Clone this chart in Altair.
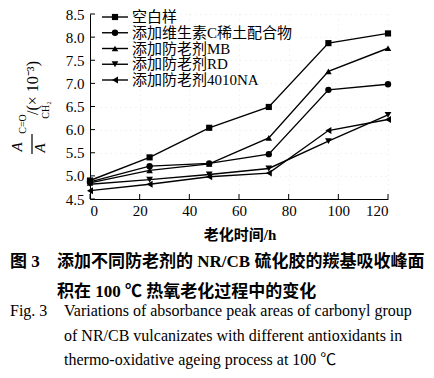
import altair as alt
import pandas as pd

# ---------------- data ----------------
hours = [0, 24, 48, 72, 96, 120]
series = ["空白样", "添加维生素C稀土配合物", "添加防老剂MB", "添加防老剂RD", "添加防老剂4010NA"]
blank = [4.90, 5.40, 6.04, 6.49, 7.87, 8.08]
vitc = [4.87, 5.21, 5.27, 5.47, 6.86, 6.98]
mb = [4.85, 5.12, 5.26, 5.82, 7.26, 7.76]
rd = [4.82, 4.92, 5.03, 5.16, 5.75, 6.32]
na4010 = [4.68, 4.82, 4.98, 5.06, 5.98, 6.22]
values = [blank, vitc, mb, rd, na4010]

x_ticks = [0, 20, 40, 60, 80, 100, 120]
y_ticks = [4.5, 5.0, 5.5, 6.0, 6.5, 7.0, 7.5, 8.0, 8.5]

x_title = "老化时间/h"
y_num, y_num_sub = "A", "C=O"
y_den, y_den_sub = "A", "CH₂"
y_unit = "/(× 10⁻³)"
cap_cn_lead = "图 3"
cap_cn = ["添加不同防老剂的 NR/CB 硫化胶的羰基吸收峰面", "积在 100 ℃ 热氧老化过程中的变化"]
cap_en_lead = "Fig. 3"
cap_en = ["Variations of absorbance peak areas of carbonyl group",
          "of NR/CB vulcanizates with different antioxidants in",
          "thermo-oxidative ageing process at 100 ℃"]

shapes = ["square", "circle", "triangle-up", "triangle-down", "triangle-left"]
sizes = [38, 48, 55, 55, 55]

rows = []
for s, vals in zip(series, values):
    for h, v in zip(hours, vals):
        rows.append({"series": s, "hour": h, "value": v})
df = pd.DataFrame(rows)
legend_df = pd.DataFrame({"series": series})

W, H = 298, 185
SERIF = "Liberation Serif, Noto Sans CJK SC"
CJK = "Liberation Serif, Noto Sans CJK SC"

xs = alt.Scale(domain=[0, 120], nice=False, zero=False)
ys = alt.Scale(domain=[4.5, 8.5], nice=False, zero=False)
shape_sc = alt.Scale(domain=series, range=shapes)
size_sc = alt.Scale(domain=series, range=sizes)

lines = alt.Chart(df).mark_line(color="black", strokeWidth=1.4).encode(
    x=alt.X("hour:Q", scale=xs,
            axis=alt.Axis(values=x_ticks, title=None, grid=True, labelPadding=4)),
    y=alt.Y("value:Q", scale=ys,
            axis=alt.Axis(values=y_ticks, title=None, grid=True, format=".1f", labelPadding=6)),
    detail="series:N",
)

points = alt.Chart(df).mark_point(filled=True, color="black", opacity=1).encode(
    x=alt.X("hour:Q", scale=xs),
    y=alt.Y("value:Q", scale=ys, axis=None),
    shape=alt.Shape("series:N", scale=shape_sc, legend=None),
    size=alt.Size("series:N", scale=size_sc, legend=None),
)

# inward ticks
xt = alt.Chart(pd.DataFrame({"t": x_ticks})).mark_rule(color="black", strokeWidth=1).encode(
    x=alt.X("t:Q", scale=xs), y=alt.value(H), y2=alt.value(H - 5))
yt = alt.Chart(pd.DataFrame({"t": y_ticks})).mark_rule(color="black", strokeWidth=1).encode(
    y=alt.Y("t:Q", scale=ys, axis=None), x=alt.value(0), x2=alt.value(5))

# legend
leg_y = alt.Y("series:N", scale=alt.Scale(type="point", domain=series, range=[3, 66], padding=0), axis=None)
leg_line = alt.Chart(legend_df).mark_rule(color="black", strokeWidth=1.4).encode(
    y=leg_y, x=alt.value(12), x2=alt.value(38))
leg_pt = alt.Chart(legend_df).mark_point(filled=True, color="black", opacity=1).encode(
    y=leg_y, x=alt.value(25),
    shape=alt.Shape("series:N", scale=shape_sc, legend=None),
    size=alt.Size("series:N", scale=size_sc, legend=None))
leg_txt = alt.Chart(legend_df).mark_text(align="left", baseline="middle", font=SERIF,
                                         fontSize=15, color="black").encode(
    y=leg_y, x=alt.value(42), text="series:N")


def txt(s, x, y, size, font=SERIF, weight="normal", align="left", angle=0, style="normal"):
    kw = dict(align=align, baseline="middle", font=font, fontSize=size,
              fontWeight=weight, color="black", fontStyle=style)
    if angle:
        kw["angle"] = angle
    return alt.Chart(pd.DataFrame({"t": [s]})).mark_text(**kw).encode(
        text="t:N", x=alt.value(x), y=alt.value(y))


annot = [
    txt(x_title, 150, 221, 15, font=CJK, weight="bold", align="center"),
    txt(y_num, -73, 133, 15, style="italic", align="center", angle=270),
    txt(y_num_sub, -67, 110, 10, align="center", angle=270),
    txt(y_den, -50, 134, 15, style="italic", align="center", angle=270),
    txt(y_den_sub, -44, 96, 10, align="center", angle=270),
    txt(y_unit, -57, 74, 16, align="center", angle=270),
    txt(cap_cn_lead, -80, 248, 17, font=CJK, weight="bold"),
    txt(cap_cn[0], -33, 248, 17, font=CJK, weight="bold"),
    txt(cap_cn[1], -33, 278, 17, font=CJK, weight="bold"),
    txt(cap_en_lead, -80, 297, 16),
    txt(cap_en[0], -26, 297, 16),
    txt(cap_en[1], -26, 322, 16),
    txt(cap_en[2], -26, 346, 16),
]
frac_bar = alt.Chart(pd.DataFrame({"t": [0]})).mark_rule(color="black", strokeWidth=1.2).encode(
    x=alt.value(-58), y=alt.value(120), y2=alt.value(140))

chart = alt.layer(lines, points, xt, yt, leg_line, leg_pt, leg_txt, frac_bar, *annot).resolve_scale(
    y="independent"
).properties(
    width=W, height=H,
    autosize=alt.AutoSizeParams(type="none"),
    padding={"left": 82, "top": 6, "right": 38, "bottom": 171},
).configure_view(stroke=None).configure_axis(
    domainColor="black", domainWidth=1, tickSize=0, ticks=False,
    labelFont="Liberation Serif", labelFontSize=15, labelColor="black",
    gridColor="#e2e2e2", gridDash=[1, 4], gridWidth=0.8,
)

chart.save("out.html", embed_options={"renderer": "svg", "actions": False})
